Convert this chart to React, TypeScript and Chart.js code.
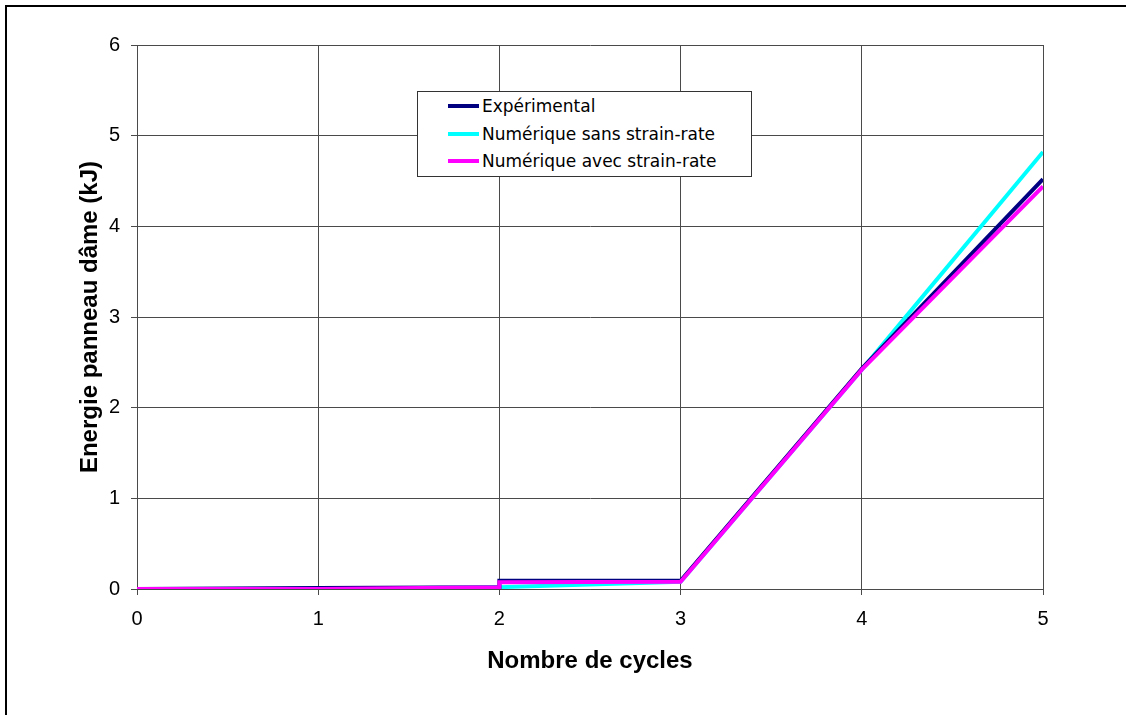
import React, { useEffect, useRef } from "react";
import { Chart, registerables } from "chart.js";

Chart.register(...registerables);

const expX = [0, 1, 2, 2, 3, 4, 5];
const expY = [0, 0.01, 0.02, 0.09, 0.09, 2.43, 4.52];
const sansX = [0, 1, 2, 3, 4, 5];
const sansY = [0, 0, 0.02, 0.08, 2.42, 4.82];
const avecX = [0, 1, 2, 2, 3, 4, 5];
const avecY = [0, 0, 0.02, 0.075, 0.08, 2.42, 4.44];

const seriesNames = [
  "Expérimental",
  "Numérique sans strain-rate",
  "Numérique avec strain-rate",
];
const seriesColors = ["#000080", "#00FFFF", "#FF00FF"];
const xTitle = "Nombre de cycles";
const yTitle = "Energie panneau dâme (kJ)";

const pts = (xs: number[], ys: number[]) => xs.map((x, i) => ({ x, y: ys[i] }));

export default function App() {
  const ref = useRef<HTMLCanvasElement>(null);
  useEffect(() => {
    document.body.style.margin = "0";
    const ctx = ref.current!;
    const grid = "#4a4a4a";
    const chart = new Chart(ctx, {
      type: "line",
      data: {
        datasets: [
          { label: seriesNames[0], data: pts(expX, expY), borderColor: seriesColors[0], order: 1 },
          { label: seriesNames[1], data: pts(sansX, sansY), borderColor: seriesColors[1], order: 2 },
          { label: seriesNames[2], data: pts(avecX, avecY), borderColor: seriesColors[2], order: 0 },
        ].map((d) => ({ ...d, borderWidth: 4, pointRadius: 0, tension: 0, fill: false })),
      },
      options: {
        animation: false,
        responsive: false,
        devicePixelRatio: 1,
        layout: { padding: { left: 76, top: 45, right: 83, bottom: 39 } },
        plugins: { legend: { display: false }, tooltip: { enabled: false } },
        scales: {
          x: {
            type: "linear",
            min: 0,
            max: 5,
            ticks: { stepSize: 1, color: "#000", padding: 12, font: { family: "Liberation Sans", size: 20 } },
            grid: { color: grid, tickLength: 6, drawTicks: true },
            border: { color: grid },
            title: {
              display: true,
              text: xTitle,
              color: "#000",
              padding: { top: 0, bottom: 0 },
              font: { family: "Liberation Sans", size: 24, weight: "bold" },
            },
            afterFit: (s: any) => { s.height = 87; },
          },
          y: {
            min: 0,
            max: 6,
            ticks: { stepSize: 1, color: "#000", padding: 11, font: { family: "Liberation Sans", size: 20 } },
            grid: { color: grid, tickLength: 6, drawTicks: true },
            border: { color: grid },
            title: {
              display: true,
              text: yTitle,
              color: "#000",
              padding: { top: 0, bottom: 0 },
              font: { family: "Liberation Sans", size: 24, weight: "bold" },
            },
            afterFit: (s: any) => { s.width = 61; },
          },
        },
      },
    } as any);
    return () => chart.destroy();
  }, []);

  return (
    <div style={{ position: "relative", width: 1126, height: 715, overflow: "hidden", background: "#fff" }}>
      <canvas ref={ref} width={1126} height={715} style={{ position: "absolute", left: 0, top: 0 }} />
      <div
        style={{
          position: "absolute",
          left: 5,
          top: 5,
          width: 1200,
          height: 800,
          borderTop: "2px solid #000",
          borderLeft: "2px solid #000",
          pointerEvents: "none",
        }}
      />
      <div
        style={{
          position: "absolute",
          left: 417,
          top: 91,
          width: 333,
          height: 84,
          border: "1px solid #333",
          background: "#fff",
          fontFamily: "DejaVu Sans",
          fontSize: 17,
          color: "#000",
        }}
      >
        {seriesNames.map((n, i) => (
          <div
            key={n}
            style={{ position: "absolute", left: 30, top: 3 + i * 27.5, height: 22, display: "flex", alignItems: "center", whiteSpace: "nowrap" }}
          >
            <span style={{ display: "inline-block", width: 31, height: 4, background: seriesColors[i], marginRight: 3 }} />
            <span>{n}</span>
          </div>
        ))}
      </div>
    </div>
  );
}
